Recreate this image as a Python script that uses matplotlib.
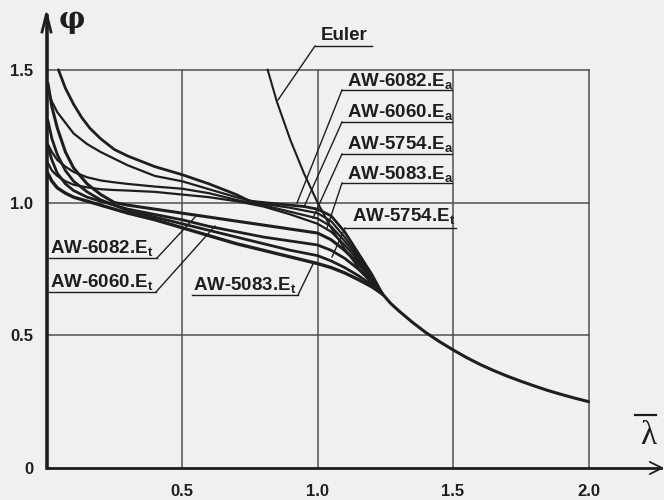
import matplotlib
matplotlib.use("Agg")
import matplotlib.pyplot as plt

plt.rcParams['font.family'] = ['Liberation Sans', 'DejaVu Sans']
plt.rcParams['mathtext.fontset'] = 'custom'
plt.rcParams['mathtext.rm'] = 'Liberation Sans:bold'
plt.rcParams['mathtext.it'] = 'Liberation Sans:bold'
plt.rcParams['mathtext.bf'] = 'Liberation Sans:bold'

# --- curves (lambda, phi) ---
lam_common = [0.005, 0.02, 0.04, 0.07, 0.1, 0.15, 0.2, 0.25, 0.3, 0.4, 0.5, 0.6, 0.7,
              0.8, 0.9, 1.0, 1.05, 1.1, 1.15, 1.2, 1.24]
# E_a group
lam_6082a = [0.044, 0.07, 0.1, 0.13, 0.16, 0.2, 0.25, 0.3, 0.4, 0.5, 0.6, 0.7, 0.75,
             0.85, 0.95, 1.0, 1.05, 1.1, 1.15, 1.2, 1.24]
phi_6082a = [1.50, 1.43, 1.37, 1.32, 1.28, 1.24, 1.20, 1.175, 1.135, 1.105, 1.07, 1.03,
             1.005, 0.995, 0.985, 0.975, 0.95, 0.89, 0.81, 0.73, 0.655]
phi_6060a = [1.42, 1.38, 1.34, 1.30, 1.26, 1.22, 1.19, 1.165, 1.14, 1.10, 1.08, 1.05, 1.02,
             0.995, 0.98, 0.96, 0.93, 0.87, 0.80, 0.725, 0.655]
phi_5754a = [1.22, 1.19, 1.16, 1.135, 1.115, 1.095, 1.083, 1.076, 1.07, 1.06, 1.052, 1.035, 1.01,
             0.99, 0.965, 0.94, 0.91, 0.855, 0.79, 0.72, 0.655]
phi_5083a = [1.15, 1.12, 1.10, 1.08, 1.067, 1.057, 1.05, 1.047, 1.045, 1.04, 1.03, 1.02, 1.005,
             0.985, 0.955, 0.92, 0.89, 0.84, 0.78, 0.715, 0.655]
# E_t group
phi_6082t = [1.45, 1.36, 1.28, 1.19, 1.13, 1.07, 1.03, 1.0, 0.99, 0.975, 0.96, 0.945, 0.93,
             0.915, 0.90, 0.885, 0.86, 0.82, 0.77, 0.71, 0.655]
phi_6060t = [1.21, 1.16, 1.11, 1.07, 1.045, 1.02, 1.005, 0.99, 0.975, 0.955, 0.935, 0.91, 0.89,
             0.87, 0.855, 0.84, 0.82, 0.79, 0.75, 0.70, 0.655]
phi_5754t = [1.31, 1.24, 1.18, 1.12, 1.08, 1.04, 1.01, 0.99, 0.97, 0.945, 0.92, 0.895, 0.87,
             0.845, 0.82, 0.80, 0.78, 0.755, 0.725, 0.69, 0.655]
phi_5083t = [1.11, 1.08, 1.055, 1.035, 1.02, 1.005, 0.99, 0.975, 0.96, 0.935, 0.905, 0.875, 0.845,
             0.82, 0.795, 0.77, 0.755, 0.735, 0.71, 0.683, 0.655]
# common tail (curves run together along Euler)
lam_tail = [1.24, 1.27, 1.3, 1.35, 1.4, 1.45, 1.5, 1.55, 1.6, 1.65, 1.7, 1.75, 1.8, 1.85,
            1.9, 1.95, 2.0]
phi_tail = [0.655, 0.62, 0.592, 0.549, 0.51, 0.476, 0.445, 0.416, 0.39, 0.367, 0.346, 0.327,
            0.309, 0.292, 0.277, 0.263, 0.25]
# Euler
lam_euler = [0.816, 0.85, 0.9, 0.95, 1.0, 1.05, 1.1, 1.15, 1.2, 1.24]
phi_euler = [1.5, 1.38, 1.235, 1.11, 1.0, 0.905, 0.826, 0.756, 0.694, 0.655]

xticks = [0.5, 1.0, 1.5, 2.0]
xtick_labels = ['0.5', '1.0', '1.5', '2.0']
yticks = [0, 0.5, 1.0, 1.5]
ytick_labels = ['0', '0.5', '1.0', '1.5']

bg = '#f0f0ee'
ink = '#1e1e1e'
grid_c = '#505050'


def px(x, y):
    # pixel position of the reference -> data coords
    return (x - 46.5) / 271.0, (468 - y) / 265.5


fig = plt.figure(figsize=(6.64, 5), dpi=100, facecolor=bg)
ax = fig.add_axes([0, 0, 1, 1])
ax.set_facecolor(bg)
ax.set_xlim(px(0, 0)[0], px(664, 0)[0])
ax.set_ylim(px(0, 500)[1], px(0, 0)[1])
ax.axis('off')

# grid
for xv in xticks:
    ax.plot([xv, xv], [0, 1.5], color=grid_c, lw=1.1)
for yv in yticks[1:]:
    ax.plot([0, 2.0], [yv, yv], color=grid_c, lw=1.1)

# curves
curves = [(lam_6082a, phi_6082a, 2.0), (lam_common, phi_6060a, 1.6),
          (lam_common, phi_5754a, 1.6), (lam_common, phi_5083a, 1.6),
          (lam_common, phi_6082t, 2.2), (lam_common, phi_6060t, 2.0),
          (lam_common, phi_5754t, 2.0), (lam_common, phi_5083t, 2.4)]
for lx, ly, w in curves:
    ax.plot(lx, ly, color=ink, lw=w, solid_joinstyle='round', solid_capstyle='round')
ax.plot(lam_euler, phi_euler, color=ink, lw=1.5)
ax.plot(lam_tail, phi_tail, color=ink, lw=2.2, solid_capstyle='round')

# axes with arrows
ax.plot([0, 0], [0, px(0, 16)[1]], color=ink, lw=2.6)
ax.plot([0, px(661, 0)[0]], [0, 0], color=ink, lw=2.0)
ax.plot(*zip(px(42, 32), px(46.5, 14), px(51, 32)), color=ink, lw=2.0)
ax.plot(*zip(px(650, 462), px(662, 468), px(650, 474)), color=ink, lw=1.3)

# tick labels
for v, lab in zip(yticks, ytick_labels):
    ax.text(px(33, 0)[0], v - 0.006, lab, ha='right', va='center',
            fontsize=12, fontweight='bold', color=ink)
for v, lab in zip(xticks, xtick_labels):
    ax.text(v, px(0, 491)[1], lab, ha='center', va='center',
            fontsize=12, fontweight='bold', color=ink)

# axis symbols
ax.text(*px(72, 20), '\u03c6', ha='center', va='center', fontsize=21,
        family='DejaVu Serif', fontweight='bold', color=ink)
ax.text(*px(648, 436), '\u03bb', ha='center', va='center', fontsize=24,
        family='Liberation Serif', color=ink)
ax.plot(*zip(px(635, 415), px(656, 415)), color=ink, lw=1.6)


def label(txt, tx, cy, u0, u1, uy, start, end):
    ax.text(*px(tx, cy), txt, ha='left', va='center', fontsize=13.5,
            fontweight='bold', color=ink)
    ax.plot(*zip(px(u0, uy), px(u1, uy)), color=ink, lw=1.0)
    ax.plot(*zip(px(*start), px(*end)), color=ink, lw=1.0)


label('Euler', 321, 35, 315, 372, 46, (315, 46), (278, 100))
label(r'AW-6082.E$_\mathrm{a}$', 347, 81, 342, 452, 90, (342, 90), (297, 203))
label(r'AW-6060.E$_\mathrm{a}$', 347, 112, 342, 452, 122, (342, 122), (304, 207))
label(r'AW-5754.E$_\mathrm{a}$', 347, 144, 342, 452, 154, (342, 154), (313, 218))
label(r'AW-5083.E$_\mathrm{a}$', 347, 174, 342, 452, 183, (342, 183), (327, 228))
label(r'AW-5754.E$_\mathrm{t}$', 352, 216, 345, 456, 228, (345, 228), (332, 257))
label(r'AW-6082.E$_\mathrm{t}$', 50, 248, 49, 157, 258, (157, 258), (197, 215))
label(r'AW-6060.E$_\mathrm{t}$', 50, 282, 49, 156, 292, (156, 292), (215, 226))
label(r'AW-5083.E$_\mathrm{t}$', 193, 285, 192, 298, 295, (298, 295), (313, 264))

fig.savefig('out.png', dpi=100, facecolor=bg)
